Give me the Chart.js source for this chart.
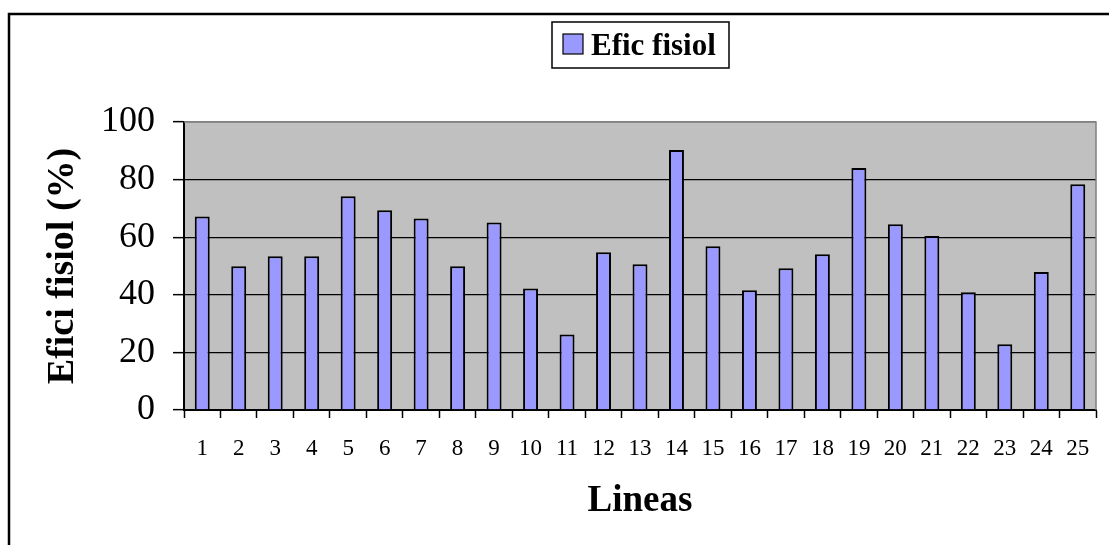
<!DOCTYPE html>
<html>
<head>
<meta charset="utf-8">
<script src="https://cdn.jsdelivr.net/npm/chart.js@4"></script>
<style>
  body { margin: 0; background: #fff; }
  #wrap { width: 1109px; height: 545px; }
</style>
</head>
<body>
<div id="wrap"><canvas id="eficChart" width="1109" height="545"></canvas></div>
<script>
// Datos del grafico
const lineas = ['1', '2', '3', '4', '5', '6', '7', '8', '9', '10', '11', '12', '13',
                '14', '15', '16', '17', '18', '19', '20', '21', '22', '23', '24', '25'];
const eficFisiol = [67.2, 49.9, 53.4, 53.4, 74.2, 69.4, 66.5, 49.9, 65.1, 42.2, 26.2, 54.8, 50.6,
                    90.3, 56.9, 41.6, 49.2, 54.1, 84.0, 64.5, 60.4, 40.9, 22.8, 47.9, 78.4];
const yTicks = [0, 20, 40, 60, 80, 100];
const serieNombre = 'Efic fisiol';

const serif = "'Liberation Serif', 'Times New Roman', serif";

// fondo gris del area de trazado, marco y leyenda
const excelLook = {
  id: 'excelLook',
  beforeDraw(chart) {
    const { ctx, chartArea: a } = chart;
    ctx.save();
    ctx.fillStyle = '#c0c0c0';
    ctx.fillRect(a.left, a.top, a.right - a.left, a.bottom - a.top);
    ctx.restore();
  },
  afterDraw(chart) {
    const { ctx, chartArea: a } = chart;
    ctx.save();
    // borde derecho gris
    ctx.strokeStyle = '#808080';
    ctx.lineWidth = 1.5;
    ctx.beginPath();
    ctx.moveTo(a.left, a.top);
    ctx.lineTo(a.right, a.top);
    ctx.lineTo(a.right, a.bottom);
    ctx.stroke();
    // marco exterior
    ctx.strokeStyle = '#000';
    ctx.lineWidth = 2.5;
    ctx.beginPath();
    ctx.moveTo(9, 545);
    ctx.lineTo(9, 14);
    ctx.lineTo(1109, 14);
    ctx.stroke();
    // leyenda
    ctx.lineWidth = 1.5;
    ctx.strokeRect(552, 22, 177, 46);
    ctx.fillStyle = '#9999ff';
    ctx.fillRect(563, 34, 20, 20);
    ctx.lineWidth = 1.2;
    ctx.strokeRect(563, 34, 20, 20);
    ctx.fillStyle = '#000';
    ctx.font = 'bold 31px ' + serif;
    ctx.textBaseline = 'alphabetic';
    ctx.fillText(serieNombre, 591, 55);
    ctx.restore();
  }
};

const ctx = document.getElementById('eficChart').getContext('2d');
const eficChart = new Chart(ctx, {
  type: 'bar',
  data: {
    labels: lineas,
    datasets: [{
      label: serieNombre,
      data: eficFisiol,
      backgroundColor: '#9999ff',
      borderColor: '#000',
      borderWidth: 2,
      barPercentage: 0.41,
      categoryPercentage: 1
    }]
  },
  options: {
    responsive: false,
    animation: false,
    layout: { padding: { top: 122, right: 13, bottom: 0, left: 0 } },
    plugins: {
      legend: { display: false },
      tooltip: { enabled: false }
    },
    scales: {
      x: {
        grid: {
          display: true,
          drawOnChartArea: false,
          drawTicks: true,
          tickLength: 8,
          tickColor: '#000',
          tickWidth: 1.5,
          offset: true
        },
        border: { color: '#000', width: 2 },
        ticks: {
          color: '#000',
          font: { family: serif, size: 23 },
          padding: 17,
          maxRotation: 0,
          autoSkip: false
        },
        title: {
          display: true,
          text: 'Lineas',
          color: '#000',
          font: { family: serif, size: 37, weight: 'bold' },
          padding: { top: 0, bottom: 21 }
        },
        afterFit(scale) { scale.height = 135; }
      },
      y: {
        min: 0,
        max: 100,
        afterBuildTicks(scale) { scale.ticks = yTicks.map(v => ({ value: v })); },
        grid: {
          color: ctx => ctx.tick && ctx.tick.value === 100 ? '#808080' : '#000',
          lineWidth: 1.3,
          tickLength: 11,
          tickColor: '#000',
          tickWidth: 1.5
        },
        border: { color: '#000', width: 2 },
        ticks: {
          color: '#000',
          font: { family: serif, size: 36 },
          padding: 18
        },
        title: {
          display: true,
          text: 'Efici fisiol (%)',
          color: '#000',
          font: { family: serif, size: 38, weight: 'bold' },
          padding: { top: 40, bottom: 0 }
        },
        afterFit(scale) { scale.width = 184; }
      }
    }
  },
  plugins: [excelLook]
});
</script>
</body>
</html>
